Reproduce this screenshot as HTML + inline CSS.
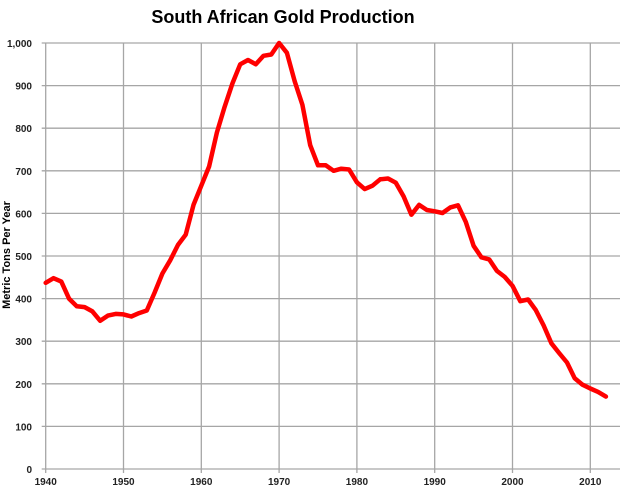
<!DOCTYPE html>
<html><head><meta charset="utf-8"><style>
html,body{margin:0;padding:0;background:#fff;}
svg{display:block;font-family:"Liberation Sans",Arial,sans-serif;}
</style></head><body>
<svg id="chart" width="620" height="491" viewBox="0 0 620 491" xmlns="http://www.w3.org/2000/svg">
<text x="283" y="23" text-anchor="middle" font-size="18" font-weight="bold" fill="#000">South African Gold Production</text>
<text transform="translate(10,255) rotate(-90)" text-anchor="middle" font-size="11" font-weight="bold" fill="#000">Metric Tons Per Year</text>
<g id="grid"></g><g id="ticks"></g><g id="series"></g>
</svg>
<script>
const years = [];
for (let y = 1940; y <= 2012; y++) years.push(y);
const production = [437,448,440,400,382,380,370,348,360,364,363,358,366,372,414,459,490,526,550,620,665,710,790,850,905,950,960,950,970,973,1000,977,910,855,760,713,713,700,705,703,673,657,665,680,682,672,640,597,620,608,605,601,614,619,580,524,497,492,465,451,430,394,398,373,337,295,272,250,213,198,189,181,170];
const yTicks = [0,100,200,300,400,500,600,700,800,900,1000];
const yTickLabels = ["0","100","200","300","400","500","600","700","800","900","1,000"];
const xTicks = [1940,1950,1960,1970,1980,1990,2000,2010];

const NS = "http://www.w3.org/2000/svg";
const x0 = 45.7, pxPerYear = 7.78, yBase = 469, pxPerUnit = 0.426;
const xScale = v => x0 + (v - 1940) * pxPerYear;
const yScale = v => yBase - v * pxPerUnit;
const grid = document.getElementById('grid');
const ticks = document.getElementById('ticks');
const series = document.getElementById('series');
function mk(tag, attrs, parent){const e=document.createElementNS(NS,tag);for(const k in attrs)e.setAttribute(k,attrs[k]);parent.appendChild(e);return e;}

yTicks.forEach((v,i)=>{
  const l = mk('line',{x1:x0-4,x2:620,y1:yScale(v),y2:yScale(v),stroke:'#a6a6a6','stroke-width':1.3},grid);
  
  
  const t = mk('text',{x:32,y:yScale(v)+4,'text-anchor':'end','font-size':10,'font-weight':'bold',fill:'#222'},ticks);
  t.textContent = yTickLabels[i];
  
  
});
xTicks.forEach(v=>{
  const l = mk('line',{x1:xScale(v),x2:xScale(v),y1:yScale(1000),y2:yBase+4,stroke:'#a6a6a6','stroke-width':1.3},grid);
  
  
  const t = mk('text',{x:xScale(v),y:485,'text-anchor':'middle','font-size':10,'font-weight':'bold',fill:'#222'},ticks);
  t.textContent = String(v);
  
  
});
const pts = years.map((y,i)=>xScale(y).toFixed(1)+','+yScale(production[i]).toFixed(1)).join(' ');
const pl = mk('polyline',{points:pts,fill:'none',stroke:'#ff0000','stroke-width':4.5,'stroke-linejoin':'round','stroke-linecap':'round'},series);


</script>
</body></html>
